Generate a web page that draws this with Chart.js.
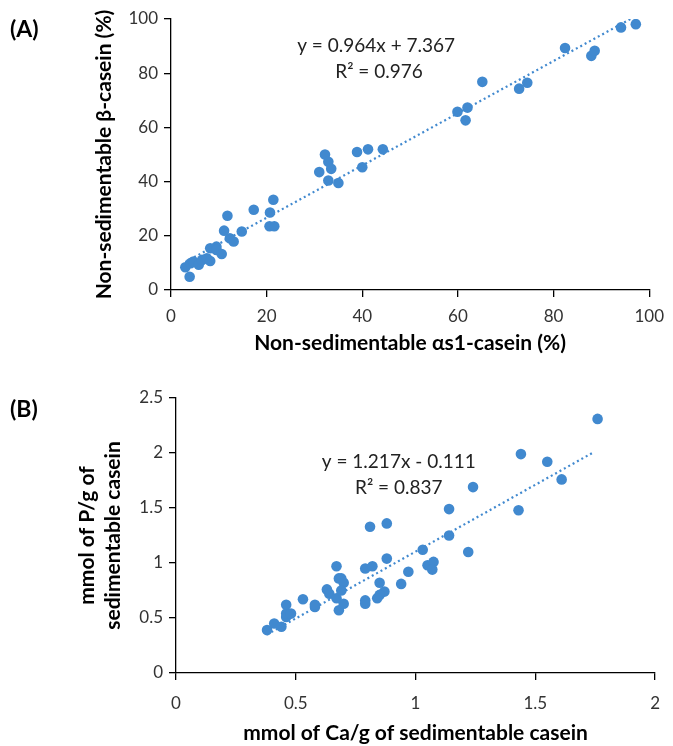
<!DOCTYPE html>
<html>
<head>
<meta charset="utf-8">
<script src="https://cdn.jsdelivr.net/npm/chart.js@4.4.0/dist/chart.umd.min.js"></script>
<style>
  body { margin: 0; background: #fff; }
  #wrap { position: relative; width: 673px; height: 746px; }
  .box { position: absolute; left: 0; width: 673px; }
  .tag { position: absolute; left: 10px; font: bold 23px Lato, sans-serif; color: #000; }
</style>
</head>
<body>
<div id="wrap">
  <div class="box" style="top:0;height:360px"><canvas id="chartA"></canvas></div>
  <div class="box" style="top:360px;height:386px"><canvas id="chartB"></canvas></div>
  <div class="tag" style="top:14px">(A)</div>
  <div class="tag" style="top:394px">(B)</div>
</div>
<script>
// (A) non-sedimentable alpha-s1 vs beta casein, %
var aX = [3.9, 3.0, 4.1, 4.7, 5.8, 6.5, 7.5, 8.2, 8.2, 9.5, 9.5, 10.6, 11.1, 12.3, 13.1, 14.8, 11.8, 17.3, 20.7, 21.4, 20.6, 21.6,
          32.2, 32.9, 33.5, 31.0, 32.9, 35.0, 38.9, 41.2, 44.3, 40.0,
          59.9, 62.0, 61.6, 65.1, 72.8, 74.5, 82.4, 87.9, 88.6, 94.1, 97.2];
var aY = [4.9, 8.4, 9.9, 10.5, 9.3, 11.1, 11.7, 10.7, 15.4, 16.0, 14.8, 13.3, 21.9, 19.1, 17.9, 21.6, 27.4, 29.6, 28.6, 33.3, 23.5, 23.5,
          50.0, 47.3, 44.7, 43.5, 40.4, 39.5, 50.9, 51.9, 51.9, 45.3,
          65.8, 67.3, 62.6, 76.8, 74.3, 76.5, 89.3, 86.4, 88.3, 96.9, 98.1];
var trendAX = [3.0, 96.5];
var trendAY = [10.3, 100.4];
var eqA = 'y = 0.964x + 7.367';
var r2A = 'R² = 0.976';

// (B) Ca vs P in sedimentable casein, mmol/g
var bX = [0.38, 0.41, 0.44, 0.46, 0.46, 0.46, 0.48, 0.53, 0.58, 0.58, 0.63, 0.64, 0.67, 0.67, 0.68, 0.68,
          0.69, 0.70, 0.69, 0.70, 0.79, 0.82, 0.81, 0.88, 0.88, 0.85, 0.87, 0.85, 0.84, 0.79, 0.79,
          0.97, 0.94, 1.03, 1.05, 1.075, 1.07, 1.14, 1.14, 1.22, 1.24, 1.44, 1.55, 1.61, 1.43, 1.76];
var bY = [0.39, 0.45, 0.42, 0.51, 0.54, 0.62, 0.54, 0.67, 0.60, 0.62, 0.76, 0.72, 0.68, 0.97, 0.86, 0.57,
          0.86, 0.82, 0.75, 0.63, 0.95, 0.97, 1.33, 1.36, 1.04, 0.82, 0.74, 0.71, 0.68, 0.66, 0.63,
          0.92, 0.81, 1.12, 0.98, 1.01, 0.94, 1.25, 1.49, 1.10, 1.69, 1.99, 1.92, 1.76, 1.48, 2.31];
var trendBX = [0.38, 1.746];
var trendBY = [0.35, 2.01];
var eqB = 'y = 1.217x - 0.111';
var r2B = 'R² = 0.837';

var blue = '#4189CF';
var fontFam = 'Lato, "Open Sans", sans-serif';

function pts(xs, ys) {
    return xs.map(function (x, i) { return {x: x, y: ys[i]}; });
}

// equation text drawn at data positions
var eqPlugin = {
    id: 'eqText',
    afterDatasetsDraw: function (chart, args, opts) {
        var ctx = chart.ctx;
        var xs = chart.scales.x, ys = chart.scales.y;
        ctx.save();
        ctx.fillStyle = '#222';
        ctx.font = '19px ' + fontFam;
        ctx.textAlign = 'center';
        ctx.textBaseline = 'middle';
        opts.lines.forEach(function (l) {
            ctx.fillText(l.text, xs.getPixelForValue(l.x), ys.getPixelForValue(l.y));
        });
        ctx.restore();
    }
};

function makeChart(id, xsArr, ysArr, tx, ty, cfg) {
    var axisGrid = {drawOnChartArea: false, drawTicks: true, tickLength: 7, color: '#000', lineWidth: 1.3};
    return new Chart(document.getElementById(id), {
        type: 'scatter',
        data: {
            datasets: [{
                data: pts(xsArr, ysArr),
                backgroundColor: blue,
                borderColor: blue,
                pointRadius: 5.3,
                pointHoverRadius: 5.3,
                borderWidth: 0
            }, {
                type: 'line',
                data: pts(tx, ty),
                borderColor: blue,
                borderWidth: 2.2,
                borderDash: [2, 3],
                pointRadius: 0,
                fill: false
            }]
        },
        options: {
            responsive: true,
            maintainAspectRatio: false,
            animation: false,
            events: [],
            layout: {padding: cfg.pad},
            plugins: {
                legend: {display: false},
                tooltip: {enabled: false},
                eqText: {lines: cfg.lines}
            },
            scales: {
                x: {
                    type: 'linear',
                    min: cfg.xMin, max: cfg.xMax,
                    ticks: {stepSize: cfg.xStep, color: '#333', font: {family: fontFam, size: 17}, padding: cfg.xTickPad,
                            callback: function (v) { return String(v); }},
                    grid: axisGrid,
                    border: {color: '#000', width: 1.3},
                    title: {display: true, text: cfg.xTitle, color: '#000',
                            font: {family: fontFam, size: 21, weight: 'bold'}, padding: {top: 0, bottom: cfg.xTitlePad}},
                    afterFit: function (s) { s.height = cfg.xH; }
                },
                y: {
                    type: 'linear',
                    min: cfg.yMin, max: cfg.yMax,
                    ticks: {stepSize: cfg.yStep, color: '#333', font: {family: fontFam, size: 17}, padding: 6,
                            callback: function (v) { return String(v); }},
                    grid: axisGrid,
                    border: {color: '#000', width: 1.3},
                    title: {display: true, text: cfg.yTitle, color: '#000',
                            font: {family: fontFam, size: 21, weight: 'bold'}, padding: {top: cfg.yTitlePad, bottom: 0}},
                    afterFit: function (s) { s.width = cfg.yW; }
                }
            }
        },
        plugins: [eqPlugin]
    });
}

makeChart('chartA', aX, aY, trendAX, trendAY, {
    pad: {top: 19, right: 16, bottom: 0, left: 0},
    xMin: 0, xMax: 100, xStep: 20, yMin: 0, yMax: 100, yStep: 20,
    xTitle: 'Non-sedimentable αs1-casein (%)',
    yTitle: 'Non-sedimentable β-casein (%)',
    xH: 70, yW: 171, xTitlePad: 4, yTitlePad: 92, xTickPad: 9,
    lines: [{text: eqA, x: 42.9, y: 90}, {text: r2A, x: 43.5, y: 80.4}]
});

makeChart('chartB', bX, bY, trendBX, trendBY, {
    pad: {top: 38, right: 16, bottom: 0, left: 0},
    xMin: 0, xMax: 2, xStep: 0.5, yMin: 0, yMax: 2.5, yStep: 0.5,
    xTitle: 'mmol of Ca/g of sedimentable casein',
    yTitle: ['mmol of P/g of', 'sedimentable casein'],
    xH: 73, yW: 176, xTitlePad: 0, yTitlePad: 75, xTickPad: 13,
    lines: [{text: eqB, x: 0.93, y: 1.92}, {text: r2B, x: 0.93, y: 1.68}]
});
</script>
</body>
</html>
